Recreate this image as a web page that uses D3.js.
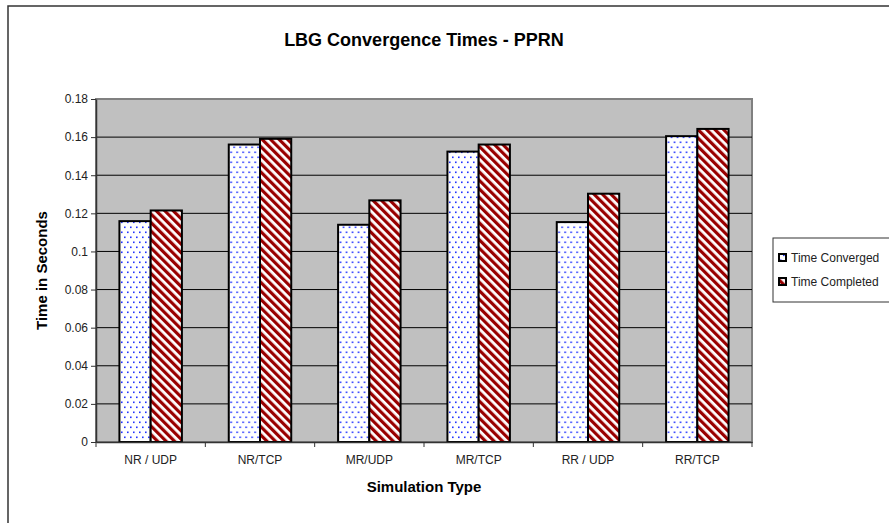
<!DOCTYPE html>
<html>
<head>
<meta charset="utf-8">
<script src="https://cdn.jsdelivr.net/npm/d3@7"></script>
<style>
  body { margin: 0; background: #fff; }
  text { font-family: "Liberation Sans", Arial, sans-serif; }
</style>
</head>
<body>
<div id="vis"></div>
<script>
// chart data
const categories = ["NR / UDP", "NR/TCP", "MR/UDP", "MR/TCP", "RR / UDP", "RR/TCP"];
const seriesNames = ["Time Converged", "Time Completed"];
const converged = [0.1159, 0.1561, 0.1140, 0.1524, 0.1154, 0.1605];
const completed = [0.1215, 0.1591, 0.1268, 0.1561, 0.1303, 0.1643];
const yTicks = [0, 0.02, 0.04, 0.06, 0.08, 0.1, 0.12, 0.14, 0.16, 0.18];

const width = 889;
const height = 523;
const plot = {left: 96, right: 752, top: 99, bottom: 442};

const svg = d3.create("svg")
  .attr("width", width).attr("height", height);

// patterns
const defs = svg.append("defs");
const dots = defs.append("pattern").attr("id", "dots")
  .attr("patternUnits", "userSpaceOnUse").attr("width", 6).attr("height", 10);
dots.append("rect").attr("width", 6).attr("height", 10).attr("fill", "#fff");
dots.append("rect").attr("x", 1).attr("y", 1.5).attr("width", 1.6).attr("height", 1.6).attr("fill", "#2233ff");
dots.append("rect").attr("x", 4).attr("y", 6.5).attr("width", 1.6).attr("height", 1.6).attr("fill", "#2233ff");

const stripes = defs.append("pattern").attr("id", "stripes")
  .attr("patternUnits", "userSpaceOnUse").attr("width", 6).attr("height", 6)
  .attr("patternTransform", "rotate(-45)");
stripes.append("rect").attr("width", 6).attr("height", 6).attr("fill", "#fff");
stripes.append("rect").attr("width", 3.2).attr("height", 6).attr("fill", "#990000");

const fills = ["url(#dots)", "url(#stripes)"];

// outer chart border
svg.append("rect")
  .attr("x", 8).attr("y", 6).attr("width", 900).attr("height", 540)
  .attr("fill", "#fff").attr("stroke", "#333").attr("stroke-width", 1.5);

// scales
const x0 = d3.scaleBand().domain(categories).range([plot.left, plot.right]);
const x1 = d3.scaleBand().domain(seriesNames).range([0, x0.step()]).paddingOuter(0.75);
const y = d3.scaleLinear().domain([0, 0.18]).range([plot.bottom, plot.top]);

// plot area
svg.append("rect")
  .attr("x", plot.left).attr("y", plot.top)
  .attr("width", plot.right - plot.left).attr("height", plot.bottom - plot.top)
  .attr("fill", "#c0c0c0").attr("stroke", "#808080").attr("stroke-width", 2);

// gridlines
svg.append("g").selectAll("line")
  .data(yTicks.filter(d => d > 0 && d < 0.18))
  .join("line")
  .attr("x1", plot.left).attr("x2", plot.right)
  .attr("y1", d => y(d)).attr("y2", d => y(d))
  .attr("stroke", "#000").attr("stroke-width", 1);

// bars
const groups = svg.append("g").selectAll("g")
  .data(categories.map((c, i) => ({c, vals: [converged[i], completed[i]]})))
  .join("g")
  .attr("transform", d => `translate(${x0(d.c)},0)`);

groups.selectAll("rect")
  .data(d => d.vals.map((v, j) => ({name: seriesNames[j], v, j})))
  .join("rect")
  .attr("x", d => x1(d.name))
  .attr("width", x1.bandwidth())
  .attr("y", d => y(d.v))
  .attr("height", d => y(0) - y(d.v))
  .attr("fill", d => fills[d.j])
  .attr("stroke", "#000").attr("stroke-width", 2);

// y axis
const yAxis = svg.append("g")
  .attr("transform", `translate(${plot.left},0)`)
  .call(d3.axisLeft(y).tickValues(yTicks).tickSize(5).tickSizeOuter(0)
    .tickFormat(d => d === 0 ? "0" : String(+d.toFixed(2))));
yAxis.select(".domain").attr("stroke", "#333").attr("stroke-width", 1.5);
yAxis.selectAll(".tick line").attr("stroke", "#333");
yAxis.selectAll(".tick text").attr("font-size", 12).attr("fill", "#222")
  .attr("font-family", "Liberation Sans, Arial, sans-serif").attr("x", -8);

// x axis
const xAxis = svg.append("g")
  .attr("transform", `translate(0,${plot.bottom})`)
  .call(d3.axisBottom(x0).tickSize(0).tickSizeOuter(0));
xAxis.select(".domain").attr("stroke", "#333").attr("stroke-width", 1.5);
xAxis.selectAll(".tick text").attr("font-size", 12).attr("fill", "#222")
  .attr("font-family", "Liberation Sans, Arial, sans-serif")
  .attr("y", 13).attr("dy", "0.71em");
svg.append("g").selectAll("line")
  .data(categories.concat(["end"]))
  .join("line")
  .attr("x1", (d, i) => plot.left + i * x0.step())
  .attr("x2", (d, i) => plot.left + i * x0.step())
  .attr("y1", plot.bottom).attr("y2", plot.bottom + 5)
  .attr("stroke", "#333");

// titles
svg.append("text").text("LBG Convergence Times - PPRN")
  .attr("x", (plot.left + plot.right) / 2).attr("y", 46)
  .attr("text-anchor", "middle").attr("font-size", 18).attr("font-weight", "bold");

svg.append("text").text("Simulation Type")
  .attr("x", (plot.left + plot.right) / 2).attr("y", 492)
  .attr("text-anchor", "middle").attr("font-size", 15).attr("font-weight", "bold");

svg.append("text").text("Time in Seconds")
  .attr("transform", `translate(47,${(plot.top + plot.bottom) / 2}) rotate(-90)`)
  .attr("text-anchor", "middle").attr("font-size", 15).attr("font-weight", "bold");

// legend
const legend = svg.append("g").attr("transform", "translate(773,238)");
legend.append("rect").attr("width", 120).attr("height", 64)
  .attr("fill", "#fff").attr("stroke", "#333").attr("stroke-width", 1);
seriesNames.forEach((name, i) => {
  const row = legend.append("g").attr("transform", `translate(6,${20 + i * 24})`);
  row.append("rect").attr("x", 0).attr("y", -4).attr("width", 7).attr("height", 7)
    .attr("fill", fills[i]).attr("stroke", "#000").attr("stroke-width", 2);
  row.append("text").text(name).attr("x", 12).attr("y", 4)
    .attr("font-size", 12).attr("fill", "#222");
});

document.getElementById("vis").appendChild(svg.node());
</script>
</body>
</html>
